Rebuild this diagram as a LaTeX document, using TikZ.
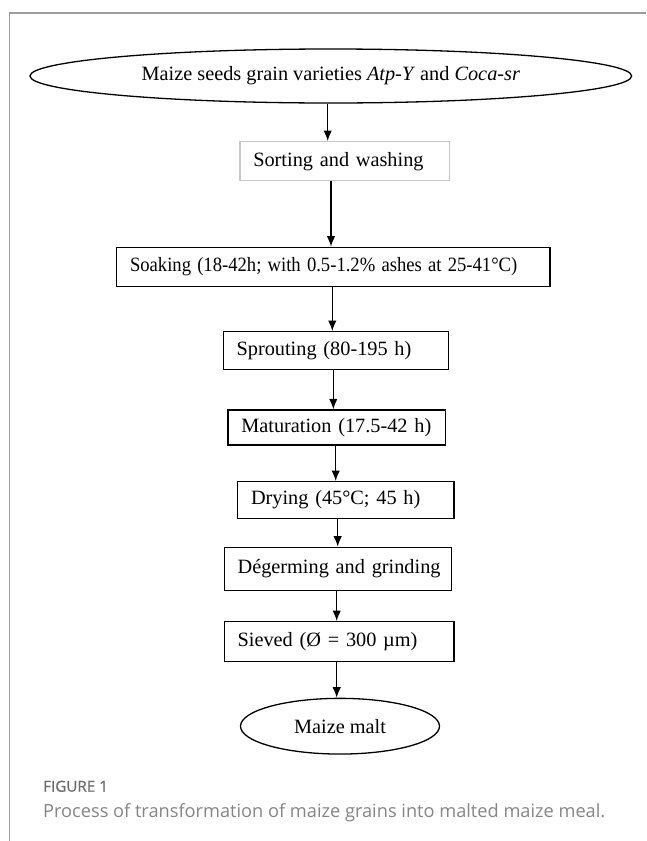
\documentclass[tikz,border=0pt]{standalone}
\usepackage{fontspec}
\setmainfont{Liberation Serif}
\newfontfamily\didafont{Open Sans}
\newfontfamily\figurafont{Open Sans}[FakeBold=0.6]
\usepackage{graphicx}
\usetikzlibrary{shapes.geometric, arrows.meta}
\definecolor{grigiocornice}{gray}{0.62}
\definecolor{grigiotesto}{gray}{0.52}
\newcommand{\stretto}[1]{\scalebox{0.918}[1]{#1}}
\tikzset{
    fase/.style = {draw, rectangle, line width = 1.3pt, inner xsep = 13.3pt, inner ysep = 0pt,
        align = left, font = \fontsize{20.3}{24}\selectfont},
    estremo/.style = {draw, ellipse, line width = 1.3pt, inner sep = 0pt,
        font = \fontsize{20.3}{24}\selectfont},
    freccia/.style = {-{Latex[length=10.5pt, width=8.5pt]}, line width = 1.4pt},
    cornice/.style = {draw = grigiocornice, line width = 1.5pt}
}

\begin{document}
\begin{tikzpicture}[x = 1pt, y = -1pt]
    % Bordi
    \useasboundingbox (0,0) rectangle (646,841);
    \draw[cornice] (646,13) -- (9.5,13) -- (9.5,841);
    % Fasi
    \node[estremo, minimum width = 601.7pt, minimum height = 54pt] (seme) at (330.8,76)
        {Maize seeds grain varieties \textit{Atp-Y} and \textit{Coca-sr}};
    \node[fase, draw = black!22, text width = 182.7pt, minimum height = 39pt] (cernita) at (344.65,161.2)
        {\mbox{Sorting and washing}};
    \node[fase, text width = 406.7pt, minimum height = 39.4pt] (ammollo) at (333.35,267)
        {\stretto{Soaking (18-42h; with 0.5-1.2\% ashes at 25-41°C)}};
    \node[fase, text width = 198.4pt, minimum height = 37.6pt] (germoglio) at (335.8,350.5)
        {\mbox{Sprouting (80-195 h)}};
    \node[fase, text width = 191.2pt, minimum height = 35pt] (maturazione) at (336.9,427.5)
        {\mbox{Maturation (17.5-42 h)}};
    \node[fase, text width = 189.7pt, minimum height = 36.6pt] (essiccazione) at (345.85,500)
        {\mbox{Drying (45°C; 45 h)}};
    \node[fase, text width = 200.3pt, minimum height = 43.4pt] (degerminazione) at (337.75,569)
        {\mbox{Dégerming and grinding}};
    \node[fase, text width = 203.1pt, minimum height = 40pt] (setacciatura) at (339.15,641.7)
        {\mbox{Sieved (Ø = 300 µm)}};
    \node[estremo, minimum width = 199pt, minimum height = 55.7pt] (malto) at (340,726.2)
        {Maize malt\hspace{22pt}};
    % Frecce
    \foreach \da/\a/\dx in {seme/cernita/-3.1, cernita/ammollo/-13.65, ammollo/germoglio/-1.05,
        germoglio/maturazione/-2.5, maturazione/essiccazione/-1.2, essiccazione/degerminazione/-8.15,
        degerminazione/setacciatura/-1.05, setacciatura/malto/-2.45}
        \draw[freccia] ([xshift=\dx pt]\da.south) -- ([xshift=\dx pt]\da.south |- \a.north);
    % Didascalia
    \node[anchor = base west, inner sep = 0pt, font = \figurafont\fontsize{15.2}{17}\selectfont,
        text = grigiotesto!80!black] (figura) at (43,791.7) {FIGURE 1};
    \node[anchor = base west, inner sep = 0pt, font = \didafont\fontsize{18.2}{21}\selectfont,
        text = grigiotesto] (didascalia) at (43,817.3)
        {Process of transformation of maize grains into malted maize meal.};
\end{tikzpicture}
\end{document}
